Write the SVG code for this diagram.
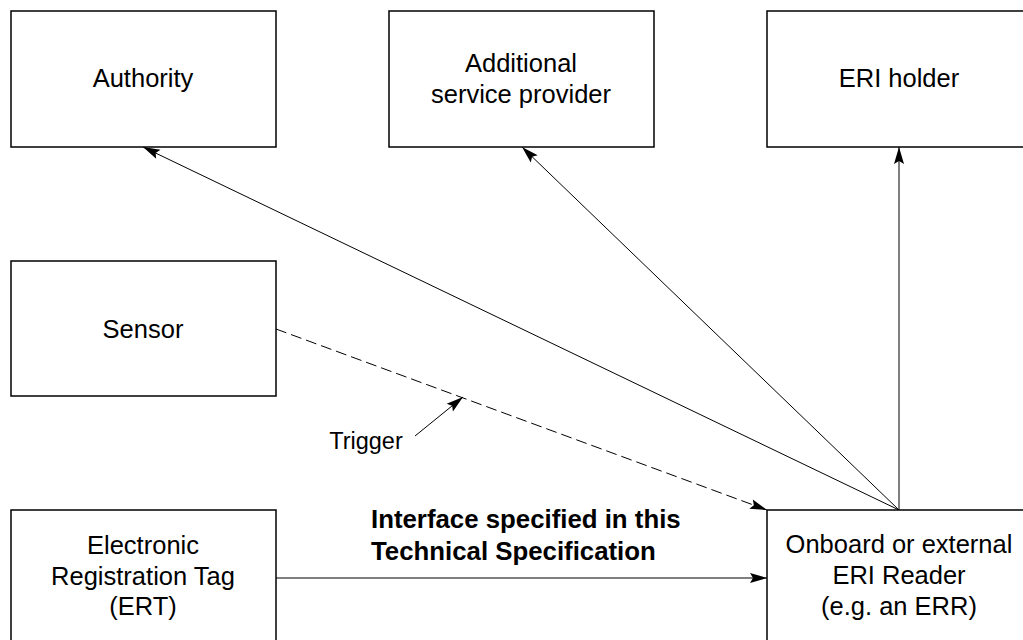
<svg xmlns="http://www.w3.org/2000/svg" width="1023" height="640" viewBox="0 0 1023 640">
<style>
.box{fill:#fff;stroke:#000;stroke-width:1.5}
.t{font-family:"Liberation Sans",Arial,sans-serif;font-size:25.5px;fill:#000;text-anchor:middle}
.b{font-family:"Liberation Sans",Arial,sans-serif;font-size:25.8px;font-weight:bold;fill:#000}
.c{stroke:#000;stroke-width:1;fill:none}
.d{stroke-dasharray:11,5}
</style>
<defs>
<marker id="ah" markerUnits="userSpaceOnUse" markerWidth="20" markerHeight="12" refX="17" refY="5" orient="auto" overflow="visible">
<path d="M17,5 L0,0 L3,5 L0,10 Z" fill="#000"/>
</marker>
</defs>
<rect width="1023" height="640" fill="#fff"/>
<g id="connectors">
<line class="c" x1="899" y1="510" x2="143" y2="147" marker-end="url(#ah)"/>
<line class="c" x1="899" y1="510" x2="522" y2="147" marker-end="url(#ah)"/>
<line class="c" x1="899" y1="510" x2="899" y2="147" marker-end="url(#ah)"/>
<line class="c d" x1="276" y1="329" x2="767" y2="510" marker-end="url(#ah)"/>
<line class="c" x1="276" y1="578" x2="767" y2="578" marker-end="url(#ah)"/>
<line class="c" x1="415" y1="436" x2="463" y2="397" marker-end="url(#ah)"/>
<text class="t" x="366" y="449" style="font-size:23.5px">Trigger</text>
<text class="b" x="371" y="528">Interface specified in this</text>
<text class="b" x="371" y="560">Technical Specification</text>
</g>
<g id="authority">
<rect class="box" x="11" y="11" width="265" height="136"/>
<text class="t" x="143" y="87">Authority</text>
</g>
<g id="additional">
<rect class="box" x="389" y="11" width="265" height="136"/>
<text class="t" x="521" y="72">Additional</text>
<text class="t" x="521" y="103">service provider</text>
</g>
<g id="eriholder">
<rect class="box" x="767" y="11" width="265" height="136"/>
<text class="t" x="899" y="87">ERI holder</text>
</g>
<g id="sensor">
<rect class="box" x="11" y="261" width="265" height="135"/>
<text class="t" x="143" y="338">Sensor</text>
</g>
<g id="ert">
<rect class="box" x="11" y="510" width="265" height="140"/>
<text class="t" x="143" y="554">Electronic</text>
<text class="t" x="143" y="585">Registration Tag</text>
<text class="t" x="143" y="615">(ERT)</text>
</g>
<g id="reader">
<rect class="box" x="767" y="510" width="265" height="140"/>
<text class="t" x="899" y="553">Onboard or external</text>
<text class="t" x="899" y="584">ERI Reader</text>
<text class="t" x="899" y="615">(e.g. an ERR)</text>
</g>
</svg>
